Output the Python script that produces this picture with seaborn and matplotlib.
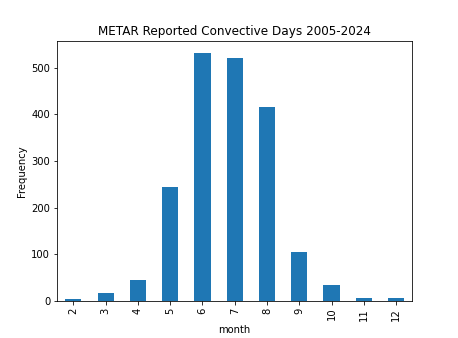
import matplotlib
matplotlib.use("Agg")
import matplotlib.pyplot as plt
import seaborn as sns
import pandas as pd

months = ["2", "3", "4", "5", "6", "7", "8", "9", "10", "11", "12"]
counts = [3, 16, 44, 245, 532, 522, 417, 104, 33, 5, 5]

df = pd.DataFrame({"month": months, "Frequency": counts})

fig, ax = plt.subplots(figsize=(458 / 72, 338 / 72), dpi=72)
sns.barplot(data=df, x="month", y="Frequency", color="#1f77b4", saturation=1,
            width=0.5, ax=ax, order=months)
ax.set_title("METAR Reported Convective Days 2005-2024")
ax.set_xlabel("month")
ax.set_ylabel("Frequency")
ax.tick_params(axis="x", labelrotation=90)
ax.set_xlim(-0.5, len(months) - 0.5)
fig.savefig("out.png", dpi=72)
